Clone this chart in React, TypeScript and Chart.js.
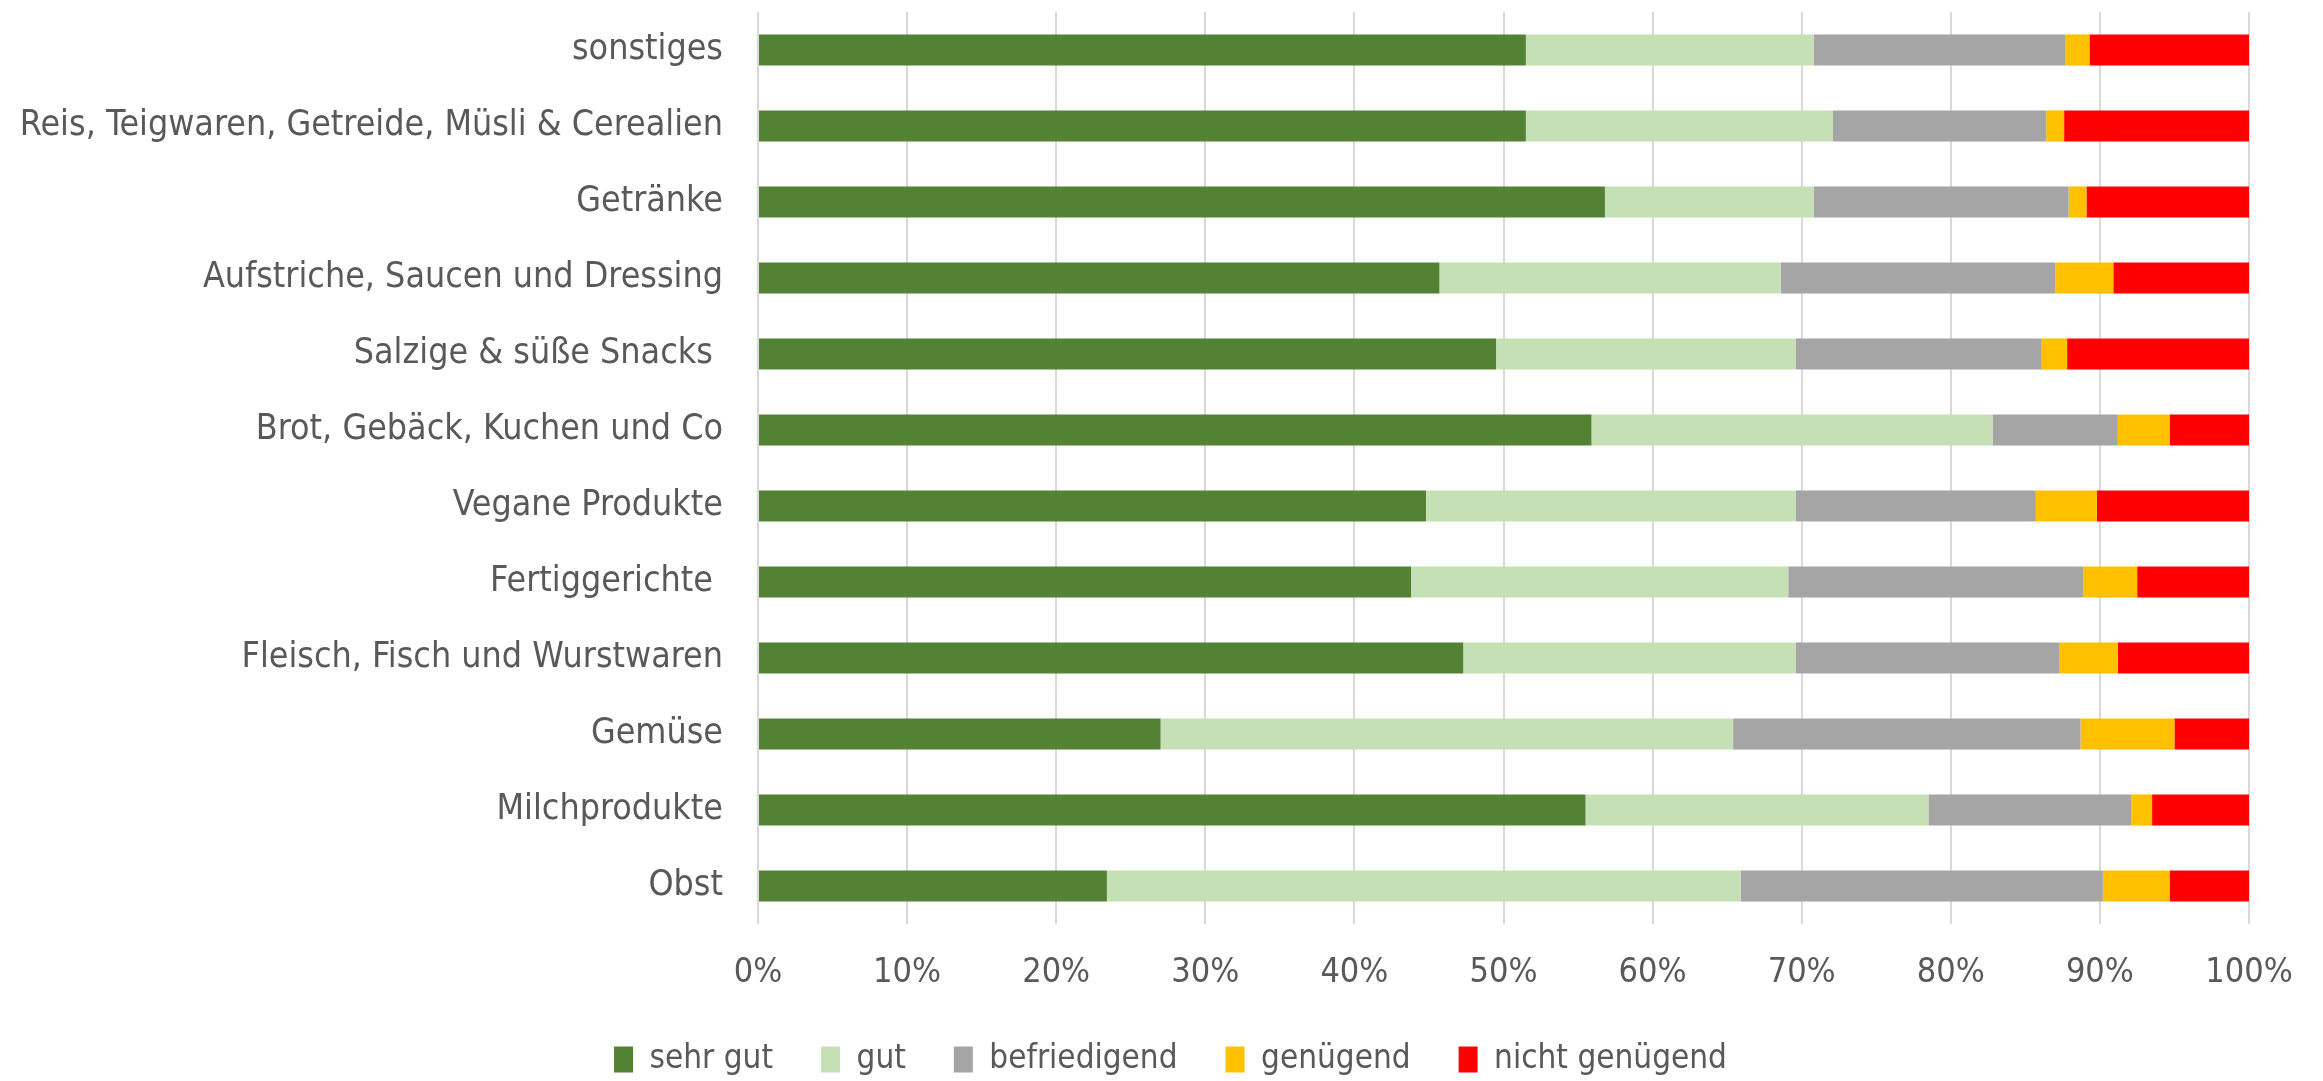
import React, { useEffect, useRef } from "react";
import { Chart, registerables } from "chart.js";

Chart.register(...registerables);

const categories = [
  "sonstiges",
  "Reis, Teigwaren, Getreide, Müsli & Cerealien",
  "Getränke",
  "Aufstriche, Saucen und Dressing",
  "Salzige & süße Snacks ",
  "Brot, Gebäck, Kuchen und Co",
  "Vegane Produkte",
  "Fertiggerichte ",
  "Fleisch, Fisch und Wurstwaren",
  "Gemüse",
  "Milchprodukte",
  "Obst",
];

const seriesNames = ["sehr gut", "gut", "befriedigend", "genügend", "nicht genügend"];

const sehrGut = [51.5, 51.5, 56.8, 45.7, 49.5, 55.9, 44.8, 43.8, 47.3, 27.0, 55.5, 23.4];
const gut = [19.3, 20.6, 14.0, 22.9, 20.1, 26.9, 24.8, 25.3, 22.3, 38.4, 23.0, 42.5];
const befriedigend = [16.9, 14.3, 17.1, 18.4, 16.5, 8.4, 16.1, 19.8, 17.7, 23.3, 13.6, 24.3];
const genuegend = [1.6, 1.2, 1.2, 3.9, 1.7, 3.5, 4.1, 3.6, 3.9, 6.3, 1.4, 4.5];
const nichtGenuegend = [10.7, 12.4, 10.9, 9.1, 12.2, 5.3, 10.2, 7.5, 8.8, 5.0, 6.5, 5.3];

const xTicks = [0, 10, 20, 30, 40, 50, 60, 70, 80, 90, 100];

const colors = ["#548235", "#c5e0b4", "#a5a5a5", "#ffc000", "#ff0000"];

const FONT = '"DejaVu Sans Condensed", "Liberation Sans Narrow", "Open Sans", sans-serif';

const legendShift = {
  id: "legendShift",
  afterLayout(chart: any) {
    const lg = chart.legend;
    if (lg) {
      lg.left += 46;
      lg.right += 46;
    }
  },
};

export default function App() {
  const canvasRef = useRef<HTMLCanvasElement | null>(null);

  useEffect(() => {
    document.body.style.margin = "0";
    const canvas = canvasRef.current;
    if (!canvas) return;
    const values = [sehrGut, gut, befriedigend, genuegend, nichtGenuegend];
    const chart = new Chart(canvas, {
      type: "bar",
      data: {
        labels: categories,
        datasets: seriesNames.map((name, i) => ({
          label: name,
          data: values[i],
          backgroundColor: colors[i],
          borderWidth: 0,
          categoryPercentage: 1,
          barPercentage: 0.41,
        })),
      },
      plugins: [legendShift],
      options: {
        indexAxis: "y",
        responsive: false,
        animation: false,
        devicePixelRatio: 1,
        layout: { padding: { left: 0, right: 74, top: 12, bottom: 0 } },
        plugins: {
          tooltip: { enabled: false },
          legend: {
            position: "bottom",
            maxHeight: 86,
            labels: {
              color: "#595959",
              boxWidth: 19,
              boxHeight: 26,
              padding: 48,
              font: { family: FONT, size: 33 },
            },
          },
        },
        scales: {
          x: {
            stacked: true,
            min: 0,
            max: 100,
            afterBuildTicks: (scale: any) => {
              scale.ticks = xTicks.map((v) => ({ value: v }));
            },
            afterFit: (scale: any) => {
              scale.height = 71;
            },
            ticks: {
              color: "#595959",
              padding: 29,
              font: { family: FONT, size: 34 },
              callback: (v: any) => v + "%",
            },
            grid: { color: "#d9d9d9", lineWidth: 2, drawTicks: false },
            border: { display: false },
          },
          y: {
            stacked: true,
            afterFit: (scale: any) => {
              scale.width = 758;
            },
            ticks: {
              color: "#595959",
              padding: 0,
              font: { family: FONT, size: 35.5, lineHeight: 0.6 },
            },
            grid: { display: false, drawTicks: true, tickLength: 35 },
            border: { display: false },
          },
        },
      },
    });
    return () => chart.destroy();
  }, []);

  return (
    <div style={{ width: 2323, height: 1081, background: "#ffffff" }}>
      <canvas ref={canvasRef} width={2323} height={1081} />
    </div>
  );
}
